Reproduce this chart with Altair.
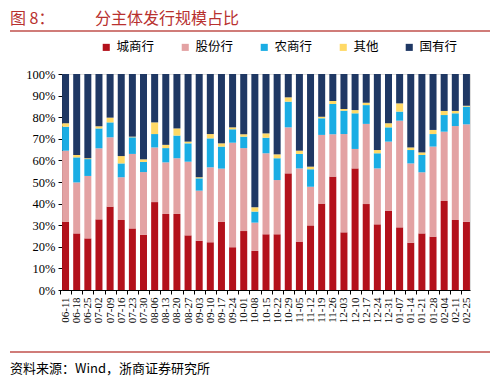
import altair as alt
import pandas as pd

dates = ["06-11", "06-18", "06-25", "07-02", "07-09", "07-16", "07-23", "07-30",
         "08-06", "08-13", "08-20", "08-27", "09-03", "09-10", "09-17", "09-24",
         "10-01", "10-08", "10-15", "10-22", "10-29", "11-05", "11-12", "11-19",
         "11-26", "12-03", "12-10", "12-17", "12-24", "12-31", "01-07", "01-14",
         "01-21", "01-28", "02-04", "02-11", "02-25"]

chengshang = [31.5, 26.2, 23.9, 32.7, 38.6, 32.4, 28.5, 25.5, 40.7, 35.2, 35.2, 25.3, 22.8,
              22.1, 31.5, 19.8, 27.3, 18.1, 25.8, 25.8, 54.0, 22.4, 29.9, 40.0, 52.5, 26.7,
              56.3, 39.8, 30.4, 36.6, 29.0, 21.9, 26.2, 24.7, 41.2, 32.4, 31.6]
gufen = [33.0, 23.6, 28.9, 32.9, 32.1, 19.8, 34.5, 29.1, 25.3, 23.9, 25.8, 34.1, 23.2,
         34.7, 24.7, 48.4, 38.4, 13.1, 37.5, 25.1, 21.3, 33.9, 17.9, 31.8, 19.6, 45.5,
         9.0, 37.1, 25.9, 32.1, 49.4, 36.7, 28.3, 41.7, 32.1, 43.5, 45.1]
nongshang = [11.1, 11.6, 7.8, 9.2, 6.9, 6.4, 7.7, 4.7, 6.2, 6.6, 10.5, 8.5, 5.7,
             13.4, 10.2, 6.2, 5.3, 5.1, 7.2, 10.1, 11.9, 6.7, 8.1, 7.7, 14.0, 10.8,
             16.5, 8.7, 7.0, 6.6, 4.2, 6.2, 8.0, 5.8, 7.7, 5.9, 8.2]
qita = [1.6, 1.1, 0.4, 1.0, 2.2, 3.4, 0.3, 1.2, 5.4, 1.5, 3.3, 0.8, 0.5,
        2.0, 1.5, 0.9, 1.1, 2.0, 2.0, 1.8, 2.0, 1.5, 1.2, 0.7, 1.4, 0.8,
        1.5, 1.1, 1.5, 1.9, 3.8, 1.2, 1.2, 1.9, 1.9, 1.1, 0.4]
guoyou = [22.8, 37.5, 39.0, 24.2, 20.2, 38.0, 29.0, 39.5, 22.4, 32.8, 25.2, 31.3, 47.8,
          27.8, 32.1, 24.7, 27.9, 61.7, 27.5, 37.2, 10.8, 35.5, 42.9, 19.8, 12.5, 16.2,
          16.7, 13.3, 35.2, 22.8, 13.6, 34.0, 36.3, 25.9, 17.1, 17.1, 14.7]

series = ["城商行", "股份行", "农商行", "其他", "国有行"]
colors = ["#B3111B", "#E3A2A3", "#1AADE4", "#FFD966", "#1F3864"]

rows = []
for i, d in enumerate(dates):
    for k, vals in enumerate([chengshang, gufen, nongshang, qita, guoyou]):
        rows.append({"date": d, "type": series[k], "value": vals[i], "k": k})
df = pd.DataFrame(rows)

CJK = "Noto Sans CJK SC"
SERIF = "Liberation Serif"

bars = alt.Chart(df).mark_bar(size=7).encode(
    x=alt.X("date:N", sort=dates, title=None,
            scale=alt.Scale(paddingOuter=0, paddingInner=0.36),
            axis=alt.Axis(labelAngle=-90, labelFont=SERIF, labelFontSize=11,
                          labelColor="#000000", domainColor="#000000", tickColor="#000000",
                          tickSize=4, tickOffset=-5.5, labelOffset=5.5, labelPadding=3,
                          labelBaseline="middle", labelAlign="right")),
    y=alt.Y("value:Q", stack="normalize", title=None,
            scale=alt.Scale(domain=[0, 1]),
            axis=alt.Axis(format=".0%", values=[i / 10 for i in range(11)],
                          labelFont=SERIF, labelFontSize=12.5, labelColor="#000000",
                          domainColor="#000000", tickColor="#000000", tickSize=4,
                          grid=False, labelPadding=3)),
    color=alt.Color("type:N", scale=alt.Scale(domain=series, range=colors),
                    legend=alt.Legend(title=None, orient="none", direction="horizontal",
                                      columns=5, legendX=38, legendY=-33,
                                      symbolType="square", symbolSize=50, symbolStrokeWidth=0,
                                      labelFont=CJK, labelFontSize=12.5, labelColor="#000000",
                                      columnPadding=24, labelOffset=4)),
    order=alt.Order("k:Q", sort="ascending"),
)

ann = pd.DataFrame({"a": [0]})
title1 = alt.Chart(ann).mark_text(text="图 8：", font=CJK, fontSize=16, color="#B8312F",
                                  align="left", baseline="middle").encode(
    x=alt.value(-52), y=alt.value(-55))
title2 = alt.Chart(ann).mark_text(text="分主体发行规模占比", font=CJK, fontSize=16, color="#B8312F",
                                  align="left", baseline="middle").encode(
    x=alt.value(33), y=alt.value(-55))
line1 = alt.Chart(ann).mark_rule(color="#C0504D", strokeWidth=1.5).encode(
    x=alt.value(-52), x2=alt.value(428), y=alt.value(-43))
line2 = alt.Chart(ann).mark_rule(color="#C0504D", strokeWidth=1.5).encode(
    x=alt.value(-52), x2=alt.value(428), y=alt.value(278))
footer = alt.Chart(ann).mark_text(text="资料来源：Wind，浙商证券研究所", font=CJK, fontSize=13,
                                  color="#000000", align="left", baseline="middle").encode(
    x=alt.value(-52), y=alt.value(295))

chart = alt.layer(bars, title1, title2, line1, line2, footer).properties(
    width=408, height=216,
    autosize=alt.AutoSizeParams(type="none"),
    padding={"left": 54, "top": 66, "right": 22, "bottom": 91},
).configure_view(stroke=None).configure(background="#FFFFFF")

chart.save("out.html", embed_options={"renderer": "svg", "actions": False})
